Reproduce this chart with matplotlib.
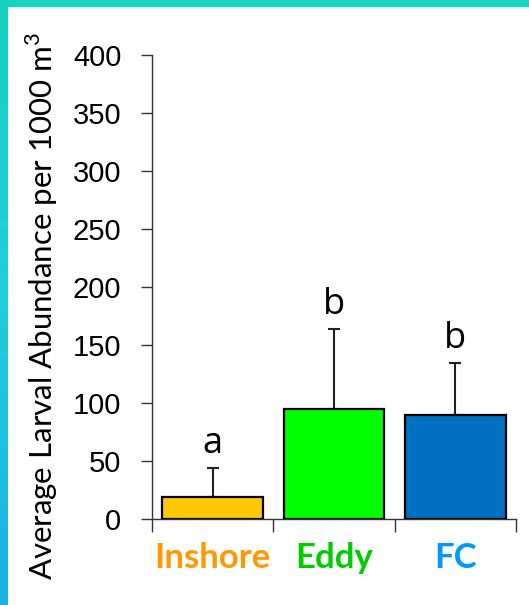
import numpy as np
import matplotlib
matplotlib.use("Agg")
import matplotlib.pyplot as plt
from matplotlib.colors import LinearSegmentedColormap
from matplotlib.patches import Rectangle

# Data
sites = ["Inshore", "Eddy", "FC"]
abundance = [18.5, 94, 89.5]
upper_err = [25, 69, 44.5]
letters = ["a", "b", "b"]
bar_colors = ["#FFC800", "#00FF00", "#0070C0"]
label_colors = ["#FF9900", "#00CC00", "#0099FF"]
yticks = [0, 50, 100, 150, 200, 250, 300, 350, 400]

plt.rcParams["mathtext.fontset"] = "custom"
plt.rcParams["mathtext.rm"] = "Lato"

fig = plt.figure(figsize=(5.29, 6.05), dpi=100)

# decorative frame: teal top strip, gradient left strip
border = LinearSegmentedColormap.from_list("border", ["#17D4C0", "#22CCE0", "#1BB1E5"])
bax = fig.add_axes([0, 0, 8 / 529, 1])
bax.imshow(np.linspace(0, 1, 100).reshape(-1, 1), aspect="auto", cmap=border)
bax.axis("off")
fig.patches.append(Rectangle((0, 1 - 6 / 605), 1, 6 / 605, transform=fig.transFigure,
                             color="#17D4C0", zorder=5))

ax = fig.add_axes([152 / 529, 1 - 518.5 / 605, 364 / 529, 464 / 605])
x = np.arange(len(sites))
ax.bar(x, abundance, width=0.83, color=bar_colors, edgecolor="black", linewidth=1.6, zorder=2)
ax.errorbar(x, abundance, yerr=[np.zeros(len(x)), upper_err], fmt="none",
            ecolor="#222222", elinewidth=1.5, capsize=4, capthick=1.5, zorder=1)

for xi, m, e, s in zip(x, abundance, upper_err, letters):
    ax.annotate(s, (xi, m + e), xytext=(0, 11), textcoords="offset points",
                ha="center", va="baseline", fontsize=26, family="Open Sans")

ax.set_xlim(-0.5, 2.5)
ax.set_ylim(0, 400)
ax.set_yticks(yticks)
ax.set_yticklabels([str(v) for v in yticks], fontsize=21, family="Liberation Sans")
ax.tick_params(axis="y", direction="out", length=8, width=1, pad=14, colors="#333333",
               labelcolor="black")

ax.set_xticks(x)
ax.set_xticklabels(sites, fontsize=25, family="Lato", fontweight="bold")
for lbl, c in zip(ax.get_xticklabels(), label_colors):
    lbl.set_color(c)
ax.tick_params(axis="x", which="major", length=0, pad=17)
ax.set_xticks([-0.5, 0.5, 1.5, 2.5], minor=True)
ax.tick_params(axis="x", which="minor", direction="out", length=9, width=1, colors="#333333")

for side in ["top", "right"]:
    ax.spines[side].set_visible(False)
for side in ["left", "bottom"]:
    ax.spines[side].set_linewidth(1)
    ax.spines[side].set_color("#333333")

fig.text(42 / 529, 1 - 306 / 605, r"Average Larval Abundance per 1000 m$^{3}$",
         rotation=90, ha="center", va="center", fontsize=22.5, family="Lato")

fig.savefig("out.png", dpi=100)
